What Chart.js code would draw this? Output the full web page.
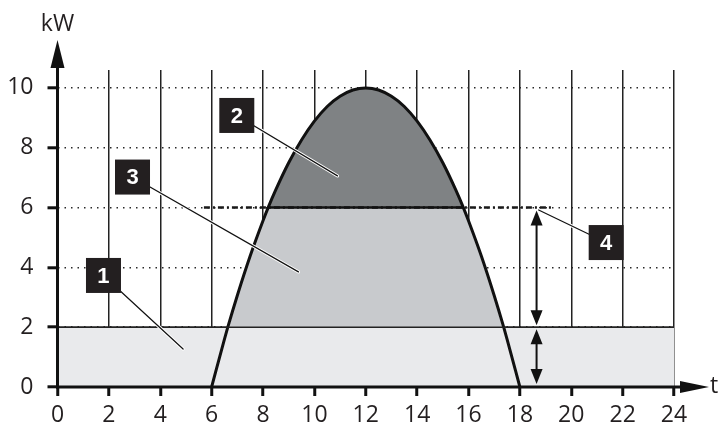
<!DOCTYPE html>
<html lang="de">
<head>
<meta charset="UTF-8">
<title>Leistungsprofil</title>
<script src="https://cdn.jsdelivr.net/npm/chart.js"></script>
<style>
    body { margin: 0; background: #fff; }
</style>
</head>
<body>
<canvas id="myChart" width="721" height="432"></canvas>
<script>
// Stunden des Tages und PV-Leistung (kW)
const hours   = [6, 6.5, 6.63, 7, 7.5, 8, 8.2, 8.5, 9, 9.5, 10, 10.5, 11, 11.5, 12, 12.5, 13, 13.5, 14, 14.5, 15, 15.5, 15.8, 16, 16.5, 17, 17.37, 17.5, 18];
const pvPower = [0, 1.6, 2.0, 3.06, 4.38, 5.56, 6.0, 6.6, 7.5, 8.26, 8.89, 9.38, 9.72, 9.93, 10, 9.93, 9.72, 9.38, 8.89, 8.26, 7.5, 6.6, 6.0, 5.56, 4.38, 3.06, 2.0, 1.6, 0];
const baseLoad = 2;          // kW, Grundlast ueber den ganzen Tag
const dayStart = 0, dayEnd = 24;
const feedInLimit = 6;       // kW
const limitLine = [5.7, 19.3];
const limitCut = [8.2, 15.8];
const xTicks = [0, 2, 4, 6, 8, 10, 12, 14, 16, 18, 20, 22, 24];
const yTicks = [0, 2, 4, 6, 8, 10];

const FONT = '"Open Sans", "Noto Sans", sans-serif';
const INK = '#231f20';

const pts = f => hours.map((h, i) => ({ x: h, y: f(pvPower[i]) }));

const overlay = {
    id: 'overlay',
    afterDraw(chart, args, opts) {
        const { ctx, chartArea: a, scales: { x, y } } = chart;
        const x0 = x.getPixelForValue(0), y0 = y.getPixelForValue(0);
        ctx.save();
        // Linie der Grundlast durchgezogen
        ctx.strokeStyle = '#222'; ctx.lineWidth = 1.6;
        const yb = y.getPixelForValue(baseLoad);
        ctx.beginPath(); ctx.moveTo(x0, yb); ctx.lineTo(x.getPixelForValue(dayEnd), yb); ctx.stroke();

        ctx.fillStyle = ctx.strokeStyle = '#111';
        ctx.lineWidth = 3;
        // Achsen mit Pfeilen
        ctx.beginPath(); ctx.moveTo(x0 - 1.5, y0); ctx.lineTo(a.right + 8, y0); ctx.stroke();
        ctx.beginPath(); ctx.moveTo(a.right + 6, y0 - 6); ctx.lineTo(a.right + 35, y0); ctx.lineTo(a.right + 6, y0 + 6); ctx.fill();
        ctx.beginPath(); ctx.moveTo(x0, y0 + 1.5); ctx.lineTo(x0, a.top - 4); ctx.stroke();
        ctx.beginPath(); ctx.moveTo(x0 - 7, a.top - 2); ctx.lineTo(x0, a.top - 30); ctx.lineTo(x0 + 7, a.top - 2); ctx.fill();
        ctx.fillStyle = INK;
        ctx.font = '23px ' + FONT;
        ctx.textAlign = 'center'; ctx.textBaseline = 'alphabetic';
        ctx.fillText('kW', x0, 31);
        ctx.textAlign = 'left'; ctx.textBaseline = 'middle';
        ctx.fillText('t', a.right + 36, y0 - 1);

        // Doppelpfeile
        const ax = x.getPixelForValue(opts.arrowX);
        const dbl = (yt, yb) => {
            ctx.fillStyle = ctx.strokeStyle = '#111';
            ctx.lineWidth = 2;
            ctx.beginPath(); ctx.moveTo(ax, yt + 10); ctx.lineTo(ax, yb - 10); ctx.stroke();
            ctx.beginPath(); ctx.moveTo(ax, yt); ctx.lineTo(ax - 6, yt + 15); ctx.lineTo(ax + 6, yt + 15); ctx.fill();
            ctx.beginPath(); ctx.moveTo(ax, yb); ctx.lineTo(ax - 6, yb - 15); ctx.lineTo(ax + 6, yb - 15); ctx.fill();
        };
        dbl(y.getPixelForValue(feedInLimit) + 3, yb - 2);
        dbl(yb + 2, y0 - 3);

        // Nummern mit Hinweislinien
        opts.callouts.forEach(c => {
            const bx = x.getPixelForValue(c.box[0]), by = y.getPixelForValue(c.box[1]);
            const ex = x.getPixelForValue(c.end[0]), ey = y.getPixelForValue(c.end[1]);
            ctx.lineCap = 'round';
            ctx.strokeStyle = '#fff'; ctx.lineWidth = 3.2;
            ctx.beginPath(); ctx.moveTo(bx, by); ctx.lineTo(ex, ey); ctx.stroke();
            ctx.strokeStyle = '#111'; ctx.lineWidth = 1.2;
            ctx.beginPath(); ctx.moveTo(bx, by); ctx.lineTo(ex, ey); ctx.stroke();
            ctx.fillStyle = INK;
            ctx.fillRect(bx - 17.5, by - 17.5, 35, 35);
            ctx.fillStyle = '#fff';
            ctx.font = 'bold 22px "Liberation Sans", Arial, sans-serif';
            ctx.textAlign = 'center'; ctx.textBaseline = 'middle';
            ctx.fillText(c.text, bx, by + 1);
        });
        ctx.restore();
    }
};

const ctx = document.getElementById('myChart').getContext('2d');
new Chart(ctx, {
    type: 'line',
    data: {
        datasets: [
            {   // Begrenzung, durchgezogener Teil
                data: limitCut.map(v => ({ x: v, y: feedInLimit })),
                borderColor: '#111', borderWidth: 2.4, fill: false, order: 1
            },
            {   // Begrenzung gestrichelt
                data: limitLine.map(v => ({ x: v, y: feedInLimit })),
                borderColor: '#1a1a1a', borderWidth: 2.6, borderDash: [6, 3, 2, 3], fill: false, order: 2
            },
            {   // PV-Kurve
                data: pts(v => v),
                borderColor: '#111', borderWidth: 3, fill: false, cubicInterpolationMode: 'monotone', order: 3
            },
            {   // Bereich 2: ueber der Begrenzung
                data: pts(v => Math.max(v, feedInLimit)),
                borderColor: 'transparent', borderWidth: 0, backgroundColor: '#7f8284',
                fill: { value: feedInLimit }, cubicInterpolationMode: 'monotone', order: 4
            },
            {   // Bereich 3: zwischen Grundlast und Begrenzung
                data: pts(v => Math.min(Math.max(v, baseLoad), feedInLimit)),
                borderColor: 'transparent', borderWidth: 0, backgroundColor: '#c8cacd',
                fill: { value: baseLoad }, cubicInterpolationMode: 'monotone', order: 5
            },
            {   // Bereich 1: Grundlast
                data: [{ x: dayStart, y: baseLoad }, { x: dayEnd, y: baseLoad }],
                borderColor: '#222', borderWidth: 1.6, backgroundColor: '#e9eaec',
                fill: 'origin', order: 6
            }
        ]
    },
    options: {
        responsive: false,
        animation: false,
        layout: { padding: { left: 0, top: 70, right: 47, bottom: 0 } },
        elements: { point: { radius: 0 } },
        plugins: {
            legend: { display: false },
            tooltip: { enabled: false },
            overlay: {
                arrowX: 18.65,
                callouts: [
                    { text: '1', box: [1.79, 3.73], end: [4.89, 1.27] },
                    { text: '2', box: [6.98, 9.08], end: [10.9, 7.06] },
                    { text: '3', box: [2.92, 7.02], end: [9.38, 3.85] },
                    { text: '4', box: [21.36, 4.83], end: [18.73, 5.92] }
                ]
            }
        },
        scales: {
            x: {
                type: 'linear', min: 0, max: 24, z: 1,
                afterFit: s => { s.height = 45; },
                afterBuildTicks: s => { s.ticks = xTicks.map(v => ({ value: v })); },
                grid: { color: '#222', lineWidth: 1.5, tickColor: '#111', tickWidth: 3, tickLength: 9 },
                border: { display: false },
                ticks: { font: { family: FONT, size: 23 }, color: INK, padding: 6, maxRotation: 0, autoSkip: false }
            },
            y: {
                type: 'linear', min: 0, max: 10.6, z: 1,
                afterFit: s => { s.width = 57.5; },
                afterBuildTicks: s => { s.ticks = yTicks.map(v => ({ value: v })); },
                grid: { color: '#2a2a2a', lineWidth: 1.6, tickColor: '#111', tickWidth: 3, tickLength: 10 },
                border: { display: false, dash: [1.5, 5] },
                ticks: { font: { family: FONT, size: 23 }, color: INK, padding: 14 }
            }
        }
    },
    plugins: [overlay]
});
</script>
</body>
</html>
